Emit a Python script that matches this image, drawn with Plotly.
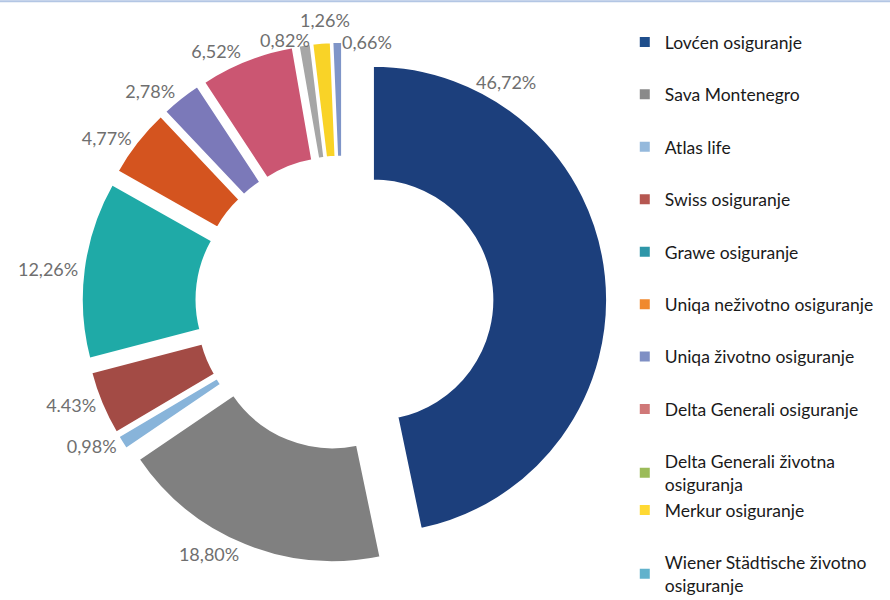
import plotly.graph_objects as go

# market share by insurer (clockwise from 12 o'clock)
companies = [
    "Lovćen osiguranje",
    "Sava Montenegro",
    "Atlas life",
    "Swiss osiguranje",
    "Grawe osiguranje",
    "Uniqa neživotno osiguranje",
    "Uniqa životno osiguranje",
    "Delta Generali osiguranje",
    "Delta Generali životna<br>osiguranja",
    "Merkur osiguranje",
    "Wiener Städtische životno<br>osiguranje",
]
shares = [46.72, 18.80, 0.98, 4.43, 12.26, 4.77, 2.78, 6.52, 0.82, 1.26, 0.66]
share_labels = ["46,72%", "18,80%", "0,98%", "4.43%", "12,26%", "4,77%",
                "2,78%", "6,52%", "0,82%", "1,26%", "0,66%"]

slice_colors = ["#1c3f7c", "#808080", "#88b4da", "#a34b45", "#1faaa7", "#d4541f",
                "#7b79b9", "#cb5672", "#a6a6a6", "#f9d327", "#7f95c8"]
legend_colors = ["#1f4e8c", "#8a8a8a", "#95b9dc", "#b65751", "#2e96a8", "#f0892e",
                 "#7f8fc4", "#d07878", "#9bbb59", "#ffd933", "#62b2cc"]
# legend groups: the two-line Delta entry sits tight against Merkur, as in the original
legend_groups = ["g0", "g1", "g2", "g3", "g4", "g5", "g6", "g7", "g8", "g8", "g10"]
pulls = [0.13, 0.115, 0.115, 0.115, 0.115, 0.115, 0.115, 0.115, 0.115, 0.115, 0.115]

# labels plotly can't place like the original (they collide up top) -> annotations
manual_labels = {0: (0.568, 0.863), 8: (0.32, 0.933), 9: (0.365, 0.967), 10: (0.412, 0.93)}

LABEL_FONT = dict(family="Lato, 'Open Sans', sans-serif", size=18, color="#6f6f6f")

fig = go.Figure()

pie_text = ["" if i in manual_labels else t for i, t in enumerate(share_labels)]

fig.add_trace(go.Pie(
    labels=companies,
    values=shares,
    text=pie_text,
    textinfo="text",
    textposition="outside",
    textfont=LABEL_FONT,
    hole=0.51,
    pull=pulls,
    sort=False,
    direction="clockwise",
    rotation=0,
    marker=dict(colors=slice_colors, line=dict(color="white", width=2)),
    domain=dict(x=[0.05, 0.72], y=[0.054, 0.936]),
    showlegend=False,
    hoverinfo="label+text",
))

# legend entries as separate scatter traces so the spacing can be opened up
for name, col, grp in zip(companies, legend_colors, legend_groups):
    fig.add_trace(go.Scatter(
        x=[None], y=[None],
        mode="markers",
        marker=dict(symbol="square", size=10, color=col),
        name=name,
        legendgroup=grp,
        showlegend=True,
    ))

annots = []
for i, (ax, ay) in manual_labels.items():
    annots.append(dict(text=share_labels[i], x=ax, y=ay, xref="paper", yref="paper",
                       xanchor="center", yanchor="middle",
                       showarrow=False, font=LABEL_FONT))

fig.update_layout(
    width=890,
    height=600,
    paper_bgcolor="white",
    plot_bgcolor="white",
    margin=dict(l=0, r=0, t=0, b=0, autoexpand=False),
    xaxis=dict(visible=False),
    yaxis=dict(visible=False),
    legend=dict(
        x=0.702, y=0.960,
        xanchor="left", yanchor="top",
        font=dict(family="Lato, 'Open Sans', sans-serif", size=17.5, color="#1a1a1a"),
        tracegroupgap=26.7,
        bgcolor="rgba(0,0,0,0)",
        itemclick=False,
    ),
    annotations=annots,
    shapes=[dict(
        type="line", xref="paper", yref="paper",
        x0=0.0, x1=1.0, y0=0.998, y1=0.998,
        line=dict(color="#b3c6e4", width=2),
    )],
)

# drop the default 8px body margin so the chart sits flush in the window
fig.write_html("out.html", config={"displayModeBar": False},
               post_script="document.body.style.margin='0';")
